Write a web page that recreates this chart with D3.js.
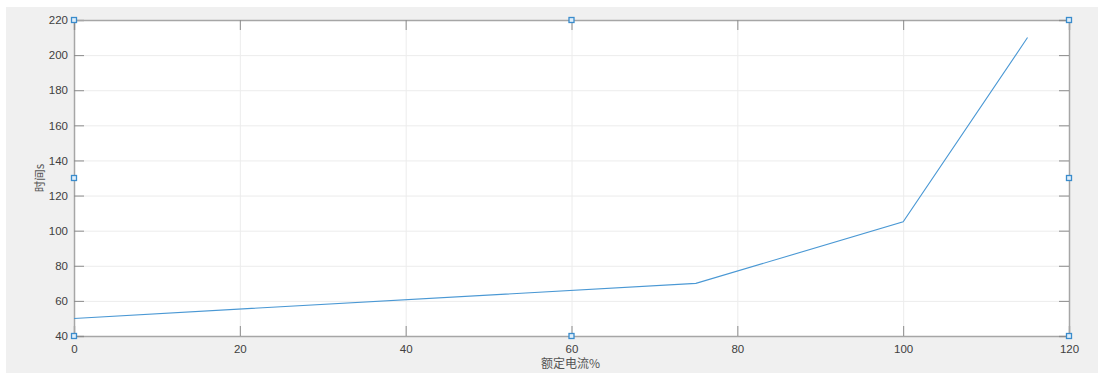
<!DOCTYPE html>
<html><head><meta charset="utf-8">
<script src="https://cdn.jsdelivr.net/npm/d3@7"></script>
<style>
html,body{margin:0;padding:0;background:#fff;}
svg{display:block;}
text{font-family:"Liberation Sans",Arial,sans-serif;}
</style></head>
<body>
<svg id="c" width="1102" height="374"></svg>
<script>
const xData = [0, 75, 100, 115];
const yData = [50, 70, 105, 210];
const xTicks = [0, 20, 40, 60, 80, 100, 120];
const yTicks = [40, 60, 80, 100, 120, 140, 160, 180, 200, 220];
const handleX = [0, 60, 120];
const handleY = [40, 130, 220];
const xLabel = "额定电流%";
const yLabel = "时间s";

const svg = d3.select("#c");
svg.append("rect").attr("x",6).attr("y",7).attr("width",1092).attr("height",366).attr("fill","#f0f0f0");

const L=74,R=1069,T=20,B=336;
const x = d3.scaleLinear().domain([0,120]).range([L,R]);
const y = d3.scaleLinear().domain([40,220]).range([B,T]);

svg.append("rect").attr("x",L).attr("y",T).attr("width",R-L).attr("height",B-T).attr("fill","#fff");

// grid
const g = svg.append("g");
g.selectAll("line.gx").data(xTicks.slice(1,-1)).join("line")
 .attr("x1",d=>x(d)+0.5).attr("x2",d=>x(d)+0.5).attr("y1",T).attr("y2",B)
 .attr("stroke","#ececec").attr("stroke-width",1);
g.selectAll("line.gy").data(yTicks.slice(1,-1)).join("line")
 .attr("y1",d=>y(d)+0.5).attr("y2",d=>y(d)+0.5).attr("x1",L).attr("x2",R)
 .attr("stroke","#ececec").attr("stroke-width",1);

// axes
const tickCol="#a6a6a6", lblCol="#404040";
const axB = d3.axisBottom(x).tickValues(xTicks).tickSize(-10).tickPadding(9);
const axL = d3.axisLeft(y).tickValues(yTicks).tickSize(-10).tickPadding(6);
const axT = d3.axisTop(x).tickValues(xTicks).tickSize(-10).tickFormat("");
const axR = d3.axisRight(y).tickValues(yTicks).tickSize(-10).tickFormat("");
function style(sel){
  sel.select(".domain").attr("stroke",tickCol).attr("stroke-width",1.5);
  sel.selectAll(".tick line").attr("stroke","#8c8c8c");
  sel.selectAll(".tick text").attr("fill",lblCol).attr("font-size",11.5);
}
svg.append("g").attr("transform",`translate(0,${B})`).call(axB).call(style);
svg.append("g").attr("transform",`translate(${L},0)`).call(axL).call(style);
svg.append("g").attr("transform",`translate(0,${T})`).call(axT).call(style);
svg.append("g").attr("transform",`translate(${R},0)`).call(axR).call(style);

// data line
svg.append("path").datum(xData.map((d,i)=>[d,yData[i]]))
 .attr("d",d3.line().x(d=>x(d[0])).y(d=>y(d[1])))
 .attr("fill","none").attr("stroke","#4a98d4").attr("stroke-width",1.1);

// handles
const hs=[];
handleX.forEach(hx=>handleY.forEach(hy=>{ if(!(hx===60&&hy===130)) hs.push([hx,hy]); }));
svg.selectAll("rect.h").data(hs).join("rect")
 .attr("x",d=>x(d[0])-2.5).attr("y",d=>y(d[1])-2.5).attr("width",5).attr("height",5)
 .attr("fill","#dfeefa").attr("stroke","#3a8ccc").attr("stroke-width",1.3);

// labels
svg.append("text").attr("x",(L+R)/2-1).attr("y",368).attr("text-anchor","middle")
 .attr("font-size",12).attr("fill","#555").style("font-family","'Noto Sans CJK SC',sans-serif").text(xLabel);
svg.append("text").attr("transform",`translate(44,${(T+B)/2}) rotate(-90)`).attr("text-anchor","middle")
 .attr("font-size",11.5).attr("fill","#555").style("font-family","'Noto Sans CJK SC',sans-serif").text(yLabel);
</script>
</body></html>
